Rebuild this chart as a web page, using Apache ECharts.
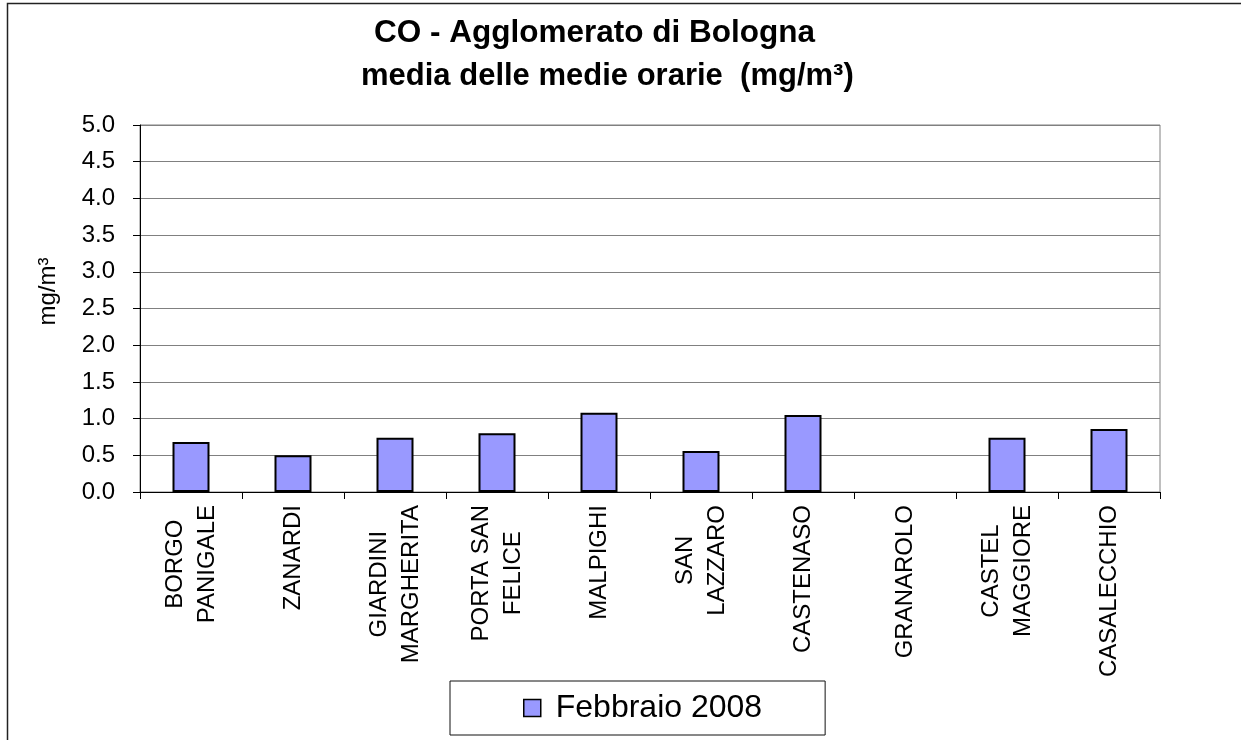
<!DOCTYPE html>
<html>
<head>
<meta charset="utf-8">
<script src="https://cdn.jsdelivr.net/npm/echarts@6/dist/echarts.min.js"></script>
<style>
html,body{margin:0;padding:0;background:#fff;}
#chart{width:1241px;height:740px;}
</style>
</head>
<body>
<div id="chart"></div>
<script>
const categories = ['BORGO\nPANIGALE','ZANARDI','GIARDINI\nMARGHERITA','PORTA SAN\nFELICE','MALPIGHI','SAN\nLAZZARO','CASTENASO','GRANAROLO','CASTEL\nMAGGIORE','CASALECCHIO'];
const febbraio2008 = [0.68, 0.50, 0.74, 0.80, 1.08, 0.56, 1.05, null, 0.74, 0.86];
const seriesName = 'Febbraio 2008';
const titleLine1 = 'CO - Agglomerato di Bologna';
const titleLine2 = 'media delle medie orarie  (mg/m³)';
const yAxisName = 'mg/m³';

const FONT = '"Liberation Sans", Arial, sans-serif';
const chart = echarts.init(document.getElementById('chart'));
chart.setOption({
  animation: false,
  backgroundColor: '#fff',
  textStyle: { fontFamily: FONT, color: '#000' },
  graphic: [{
    type: 'rect',
    shape: { x: 7.5, y: 3.5, width: 1300, height: 800 },
    style: { fill: 'none', stroke: '#222', lineWidth: 1.5 },
    silent: true
  }],
  title: [
    { text: titleLine1, left: 369, top: 12, textStyle: { fontFamily: FONT, fontSize: 31.5, fontWeight: 'bold', color: '#000' } },
    { text: titleLine2, left: 356, top: 56, textStyle: { fontFamily: FONT, fontSize: 31, fontWeight: 'bold', color: '#000' } }
  ],
  grid: { left: 140, top: 125, right: 81, bottom: 248, show: true, borderColor: '#808080', borderWidth: 1 },
  legend: {
    data: [seriesName],
    left: 450, top: 681,
    padding: [11, 63, 11, 73],
    borderColor: '#111', borderWidth: 1,
    icon: 'rect', itemWidth: 17, itemHeight: 17,
    itemStyle: { color: '#9999FF', borderColor: '#000', borderWidth: 1.5 },
    textStyle: { fontFamily: FONT, fontSize: 32, color: '#000', padding: [0, 0, 0, 10] }
  },
  xAxis: {
    type: 'category',
    data: categories,
    axisLine: { lineStyle: { color: '#000', width: 1 } },
    axisTick: { show: true, length: 7, lineStyle: { color: '#000' } },
    axisLabel: {
      interval: 0, rotate: 90, margin: 13, fontFamily: FONT, fontSize: 24, color: '#000',
      formatter: v => '{c|' + v + '}',
      rich: { c: { align: 'center', fontFamily: FONT, fontSize: 24, color: '#000', lineHeight: 32 } }
    },
    splitLine: { show: false }
  },
  yAxis: {
    type: 'value', min: 0, max: 5, interval: 0.5,
    name: yAxisName, nameLocation: 'middle', nameRotate: 90, nameGap: 80,
    nameTextStyle: { fontFamily: FONT, fontSize: 24, color: '#000', padding: [0, 0, 0, 34] },
    axisLine: { show: true, lineStyle: { color: '#000', width: 1 } },
    axisTick: { show: true, length: 7, lineStyle: { color: '#000' } },
    axisLabel: { margin: 25, fontFamily: FONT, fontSize: 24, color: '#000', formatter: v => v.toFixed(1) },
    splitLine: { show: true, lineStyle: { color: '#808080', width: 1 } }
  },
  series: [{
    name: seriesName,
    type: 'bar',
    data: febbraio2008,
    barWidth: 37,
    itemStyle: { color: '#9999FF', borderColor: '#000', borderWidth: 2 }
  }]
});
</script>
</body>
</html>
